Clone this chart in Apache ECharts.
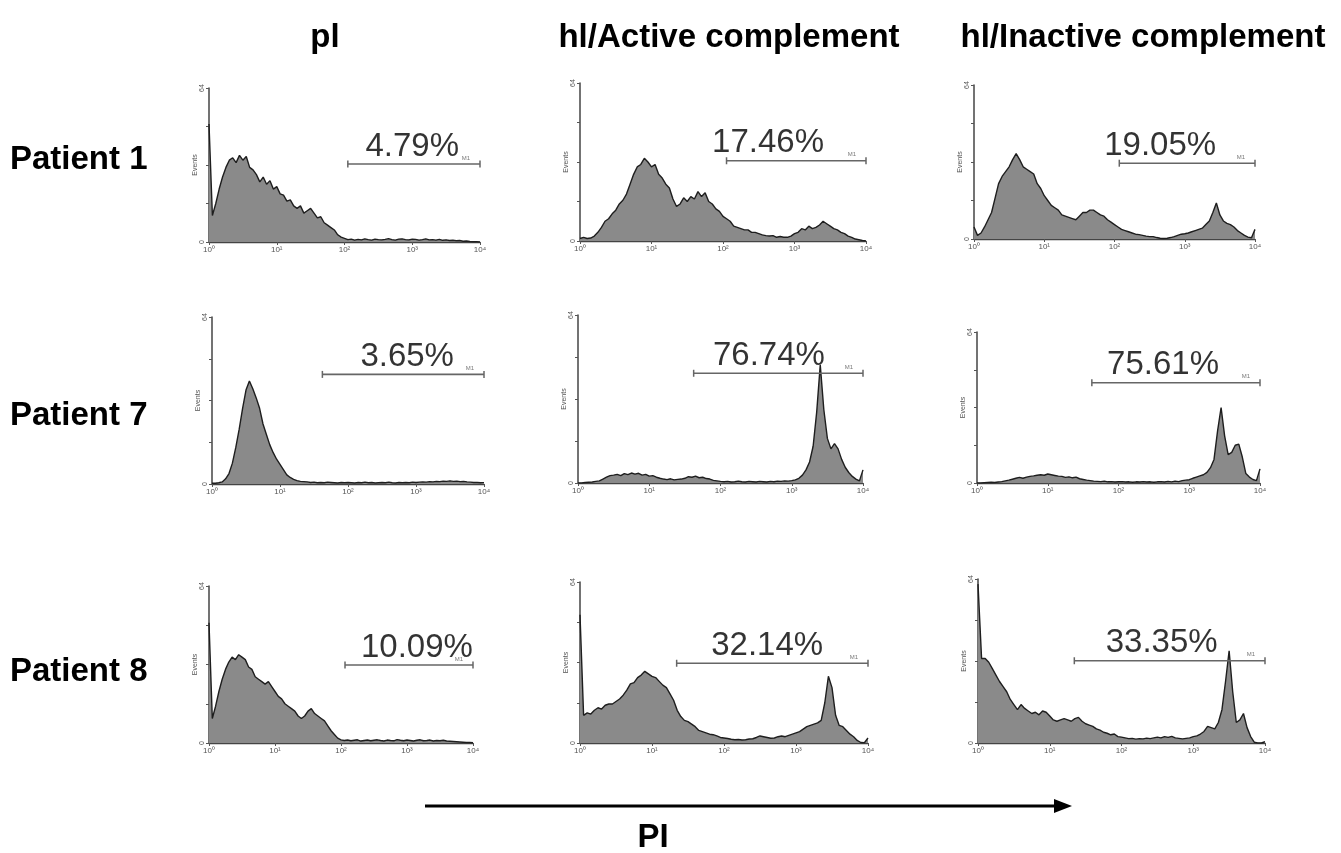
<!DOCTYPE html>
<html>
<head>
<meta charset="utf-8">
<script src="https://cdn.jsdelivr.net/npm/echarts@6/dist/echarts.min.js"></script>
<style>html,body{margin:0;padding:0;background:#fff;}#chart{width:1341px;height:853px;}</style>
</head>
<body>
<div id="chart"></div>
<script>
// ---------- data ----------
const columnTitles = ['pl', 'hl/Active complement', 'hl/Inactive complement'];
const patients = ['Patient 1', 'Patient 7', 'Patient 8'];
const xTickLabels = ['10\u2070', '10\u00b9', '10\u00b2', '10\u00b3', '10\u2074'];
const axisName = 'PI';
const BIN_STEP = 0.05; // decades per histogram channel, channels from 10^0 to 10^4

const h1 = [49,11,16,22,27,31,34,35,33,36,34,35.5,31,30,28,25,27,24,25.5,22,23,20,19.5,17,17.5,15,14,15,12,13,14,12,10,10.5,8,7,6,5,3,2,1.5,
  1,1.2,0.8,1.1,0.9,1.3,1,0.8,1.2,1,0.9,1.1,1.4,1,0.8,1.2,1.3,1,0.9,1.2,1.1,0.8,1,1.3,0.9,1,0.8,1.1,0.7,0.9,
  0.6,0.7,0.5,0.6,0.3,0.4,0.2,0.1,0.1,0];
const h2 = [1,1.5,1,1.2,2,3.5,5.5,8,9,11, 12.5,15,16.5,19,23,27,30,31,33.5,32, 30,31,27,25.5,23,21.5,17,14,15,17.5,
  16,18,17,20,18,19.5,16,15,13,12, 10,9,8,6,5.5,5,4.5,4.5,3.5,3.5, 3,2.5,2.2,2,2.2,1.5,1.8,1.5,1.5,2,
  3,3.5,5,4.5,6,5,5.5,6.5,8,7, 6,5,4.5,3.5,3,2,1.5,0.8,0.5,0.2, 0];
const h3 = [5,1.5,2.5,5,8,11,17,23,26,28, 30,33,35.5,33,30,29,28,27,23,21, 18,16,14,13,12,10,9.5,9,8.5,8,
  9.5,11,11,12,12,11,10,9.5,8,7, 6,5,4,3.5,3,2.5,2,1.8,1.5,1.2, 1,1,0.6,0.3,0.2,0.3,0.6,1,1.5,2,
  2.2,2.5,3,3.5,4,4.5,6,7.5,11,15, 10,7.5,6.5,6,5,3.5,2.5,1.5,0.8,0.5, 4];
const h4 = [0.3,0.3,0.5,0.8,2,4,8,14,21,29, 36,39.5,36.5,33,29,23,19,15,12,9.5, 7.5,5.5,3.5,2.5,1.8,1.3,1,0.9,0.8,0.6,
  0.7,0.5,0.6,0.5,0.7,0.6,0.5,0.4,0.6,0.5, 0.6,0.5,0.4,0.6,0.5,0.7,0.5,0.6,0.4,0.5, 0.6,0.5,0.7,0.5,0.4,0.6,0.5,0.6,0.5,0.7,
  0.6,0.7,0.8,0.7,0.9,0.8,1,0.9,1.1,1, 1.2,1,1.1,0.9,1,0.8,0.7,0.6,0.6,0.5, 0.5];
const h5 = [0,0,0.2,0.3,0.4,0.6,0.8,1.5,2.2,2.8, 3,3.3,2.8,3.6,3.2,3.8,3.4,3.7,3,3.3, 2.6,2.8,2.2,1.8,1.5,1.3,1.6,1.2,1.4,1.5,
  1.8,2.4,2.2,2.6,2,2.2,1.7,1.5,1,0.8, 0.6,0.5,0.6,0.4,0.5,0.7,0.5,0.4,0.6,0.5, 0.4,0.6,0.5,0.4,0.6,0.5,0.7,0.6,0.8,0.7,
  0.9,1.2,1.8,3,5,8,14,27,45,28, 17,13,15,13,9,6,4,2.5,1.5,0.8, 5];
const h6 = [0,0,0.1,0.2,0.3,0.2,0.4,0.6,0.9,1.2, 1.6,2,2.4,2,2.5,2.8,3,3.3,3.5,3.3, 3.8,3.5,3.2,2.9,2.8,2.4,2.6,2.2,2.5,1.8,
  1.5,1.2,1,0.8,0.7,0.6,0.8,0.5,0.6,0.4, 0.5,0.6,0.4,0.5,0.3,0.5,0.4,0.6,0.4,0.5, 0.3,0.5,0.6,0.4,0.7,0.5,0.8,0.6,1,1.2,
  1.4,2,2.5,3,3.5,4.5,6.5,10,22,32, 20,12,13,16,16.5,11,4,2.5,1.5,1, 6];
const h7 = [49,10,15,21,26,30,33,35,34,36, 35,34,31,30,27,26,25,24,25,23, 21,19,18,16,15,14,13,11,10,11,
  13,14,12,11,10,9,7,5,3.5,2, 1.3,
  1,1.2,0.9,1.1,1.3,0.8,1,1.2,0.9,1.1, 1.3,1,0.8,1.2,1,0.9,1.4,1.1,0.9,1.2, 1,0.8,1.1,1.3,0.9,1,1.2,0.8,1,0.9, 1.1,0.8,0.7,0.6,
  0.5,0.4,0.3,0.2,0.2,0.1];
const h8 = [51,11,12,11.5,13,14,13.5,15,15.5,15.5, 16.5,17.5,19,21,23.5,24,26,27,28.5,27.5, 26.5,26,24.5,23,22,19.5,17,13,10.5,9,
  8.5,7.5,6.5,5,4.5,4,3.5,3.3,2.8,2.2, 2,1.8,1.5,1.3,1.4,1.2,1.3,1.6,1.7,2.2, 2.8,2.5,2.2,1.9,2,2.5,2.8,2.5,3,3.5,
  4,4.5,5.5,6.5,7,7.5,8,9,16,26.5, 22,11,7,6.5,5,3.5,2.5,1,0.2,0.1, 2];
const h9 = [62,33,33,31.5,29,26.5,24,22,20,17, 15,13,15,13.5,12.5,11.5,12,11,12.5,12, 10.5,9,8.5,9,9.5,9,8.5,9.5,10,8.5,
  7.5,7,6.5,5.5,5,4.2,3.8,3.2,3.5,2.5, 2.3,2,1.7,1.8,1.5,1.7,1.6,1.9,1.7,2, 2.3,2,2.5,2.2,2.6,2,1.8,1.6,1.8,2,
  2.5,2.8,3.5,4.5,6.5,6,5.5,8,13,24, 36,20,8,9,11.5,6,2.5,0.3,0,0, 0.5];
const histograms = [h1, h2, h3, h4, h5, h6, h7, h8, h9];

// M1 gate: percentage, start, end (fluorescence) and drawn level (events)
const percents = ['4.79%', '17.46%', '19.05%', '3.65%', '76.74%', '75.61%', '10.09%', '32.14%', '33.35%'];
const gateStart = [112, 112, 117, 42, 42, 42, 115, 22, 22];
const gateEnd = [10000, 10000, 10000, 10000, 10000, 10000, 10000, 10000, 10000];
const gateLevel = [32.4, 32.5, 31.5, 42, 41.8, 42.5, 31.8, 31.7, 32.1];

// ---------- layout ----------
const grids = [
  {left: 209, top: 88, width: 271, height: 154},
  {left: 580, top: 83, width: 286, height: 158},
  {left: 974, top: 85, width: 281, height: 154},
  {left: 212, top: 317, width: 272, height: 167},
  {left: 578, top: 315, width: 285, height: 168},
  {left: 977, top: 332, width: 283, height: 151},
  {left: 209, top: 586, width: 264, height: 157},
  {left: 580, top: 582, width: 288, height: 161},
  {left: 978, top: 579, width: 287, height: 164}
];
const labelCenterDecade = [3.0, 2.63, 2.65, 2.87, 2.68, 2.63, 3.15, 2.6, 2.56];
const FONT = "'Liberation Sans', Arial, sans-serif";

const xAxes = [], yAxes = [], series = [];
grids.forEach((g, k) => {
  xAxes.push({
    gridIndex: k, type: 'log', logBase: 10, min: 1, max: 10000,
    axisLine: {show: true, lineStyle: {color: '#444', width: 1.3}},
    axisTick: {show: true, length: 3, lineStyle: {color: '#555'}},
    splitLine: {show: false},
    axisLabel: {fontSize: 8, color: '#555', margin: 4, fontFamily: FONT,
      formatter: v => xTickLabels[Math.round(Math.log10(v))] || ''}
  });
  yAxes.push({
    gridIndex: k, type: 'value', min: 0, max: 64, interval: 16,
    name: 'Events', nameLocation: 'middle', nameRotate: 90, nameGap: 9,
    nameTextStyle: {fontSize: 7, color: '#555', fontFamily: FONT},
    axisLine: {show: true, lineStyle: {color: '#444', width: 1.5}},
    axisTick: {show: true, length: 3, lineStyle: {color: '#555'}},
    splitLine: {show: false},
    axisLabel: {fontSize: 7, color: '#555', margin: 3, rotate: 90, fontFamily: FONT,
      formatter: v => (v === 0 || v === 64) ? String(v) : ''}
  });
  series.push({
    type: 'line', xAxisIndex: k, yAxisIndex: k, silent: true, symbol: 'none',
    data: histograms[k].map((v, i) => [Math.pow(10, i * BIN_STEP), v]),
    lineStyle: {color: '#1e1e1e', width: 1.4},
    areaStyle: {color: '#8a8a8a', opacity: 1}
  });
  series.push({
    type: 'line', xAxisIndex: k, yAxisIndex: k, silent: true,
    data: [[gateStart[k], gateLevel[k]], [gateEnd[k], gateLevel[k]]],
    symbol: 'rect', symbolSize: [1.5, 7],
    lineStyle: {color: '#666', width: 1.6}, itemStyle: {color: '#666'}
  });
  series.push({
    type: 'scatter', xAxisIndex: k, yAxisIndex: k, silent: true, symbolSize: 0,
    data: [[Math.pow(10, labelCenterDecade[k]), gateLevel[k]]],
    label: {show: true, position: 'top', distance: 1, formatter: percents[k],
      fontSize: 33, color: '#000', fontFamily: FONT}
  });
  series.push({
    type: 'scatter', xAxisIndex: k, yAxisIndex: k, silent: true, symbolSize: 0,
    data: [[gateEnd[k], gateLevel[k]]],
    label: {show: true, position: 'top', distance: 3, offset: [-14, 0], formatter: 'M1',
      fontSize: 6, color: '#555', fontFamily: FONT}
  });
});

const graphics = [];
const titleX = [325, 729, 1143];
columnTitles.forEach((t, i) => graphics.push({type: 'text', x: titleX[i], y: 38,
  style: {text: t, textAlign: 'center', textVerticalAlign: 'middle', font: 'bold 33px ' + FONT, fill: '#000'}}));
const patientY = [160, 416, 672];
patients.forEach((t, i) => graphics.push({type: 'text', x: 10, y: patientY[i],
  style: {text: t, textAlign: 'left', textVerticalAlign: 'middle', font: 'bold 33px ' + FONT, fill: '#000'}}));
graphics.push({type: 'line', shape: {x1: 425, y1: 806, x2: 1058, y2: 806}, style: {stroke: '#000', lineWidth: 3}});
graphics.push({type: 'polygon', shape: {points: [[1054, 799], [1072, 806], [1054, 813]]}, style: {fill: '#000'}});
graphics.push({type: 'text', x: 653, y: 838,
  style: {text: axisName, textAlign: 'center', textVerticalAlign: 'middle', font: 'bold 33px ' + FONT, fill: '#000'}});

const chart = echarts.init(document.getElementById('chart'), null, {renderer: 'canvas'});
chart.setOption({
  animation: false,
  backgroundColor: '#ffffff',
  grid: grids,
  xAxis: xAxes,
  yAxis: yAxes,
  series: series,
  graphic: graphics
});
</script>
</body>
</html>
